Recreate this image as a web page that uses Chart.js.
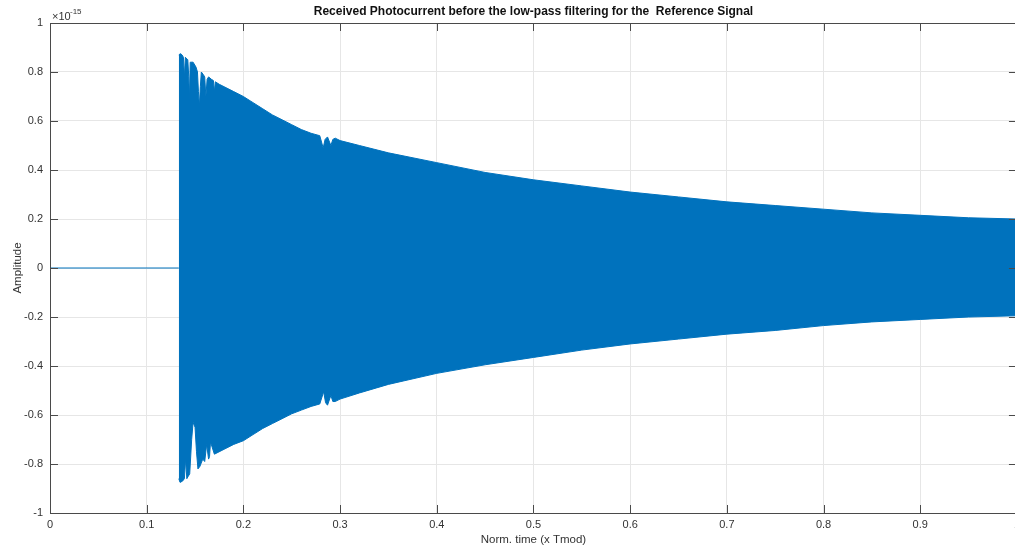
<!DOCTYPE html>
<html>
<head>
<meta charset="utf-8">
<script src="https://cdn.jsdelivr.net/npm/chart.js@4/dist/chart.umd.min.js"></script>
<style>
  html, body { margin: 0; padding: 0; background: #fff; overflow: hidden; }
  #sig { display: block; width: 1025px; height: 548px; }
</style>
</head>
<body>
<canvas id="sig" width="1025" height="548"></canvas>
<script>
// signal envelope (amplitude in units of 1e-15)
var flatX = [0, 0.1332];
var flatY = [0, 0];

var upperX = [0.1332, 0.1350, 0.1365, 0.1380, 0.1390, 0.1400, 0.1425, 0.1435, 0.1442, 0.1450, 0.148, 0.151, 0.1525,
              0.1535, 0.1545, 0.1555, 0.1565, 0.1585, 0.1600, 0.1612, 0.1625, 0.1640, 0.1670, 0.1690, 0.1700, 0.1710,
              0.175, 0.180, 0.190, 0.200, 0.210, 0.220, 0.230, 0.240, 0.250, 0.260, 0.270, 0.279, 0.2825, 0.2845,
              0.287, 0.2905, 0.2925, 0.295, 0.300, 0.320, 0.350, 0.400, 0.450, 0.500, 0.550, 0.600, 0.650,
              0.700, 0.750, 0.800, 0.850, 0.900, 0.950, 1.000];
var upperY = [0.87, 0.875, 0.87, 0.86, 0.78, 0.86, 0.85, 0.78, 0.69, 0.84, 0.84, 0.82, 0.80,
              0.72, 0.66, 0.74, 0.80, 0.79, 0.78, 0.70, 0.77, 0.78, 0.77, 0.765, 0.72, 0.76,
              0.75, 0.74, 0.72, 0.70, 0.675, 0.65, 0.625, 0.605, 0.585, 0.565, 0.55, 0.54, 0.49, 0.525,
              0.535, 0.50, 0.525, 0.53, 0.52, 0.50, 0.47, 0.43, 0.39, 0.36, 0.335, 0.31, 0.29,
              0.27, 0.255, 0.24, 0.225, 0.215, 0.205, 0.20];

var lowerX = [0.1332, 0.1345, 0.1370, 0.1390, 0.1402, 0.1415, 0.1430, 0.1445, 0.1465, 0.1480, 0.1500, 0.1515,
              0.1530, 0.1550, 0.1580, 0.1600, 0.1620, 0.1640, 0.1650, 0.1660, 0.170, 0.180, 0.190, 0.200, 0.210,
              0.220, 0.230, 0.240, 0.250, 0.260, 0.270, 0.279, 0.2830, 0.2850, 0.287, 0.2905, 0.2925, 0.295,
              0.300, 0.320, 0.350, 0.400, 0.450, 0.500, 0.550, 0.600, 0.650, 0.700, 0.750, 0.800, 0.850,
              0.900, 0.950, 1.000];
var lowerY = [-0.86, -0.875, -0.87, -0.86, -0.78, -0.86, -0.85, -0.84, -0.70, -0.63, -0.65, -0.75,
              -0.82, -0.81, -0.78, -0.79, -0.72, -0.78, -0.77, -0.71, -0.76, -0.74, -0.72, -0.705, -0.68,
              -0.655, -0.635, -0.615, -0.595, -0.58, -0.565, -0.555, -0.505, -0.55, -0.56, -0.52, -0.545, -0.545,
              -0.535, -0.51, -0.475, -0.43, -0.395, -0.365, -0.335, -0.31, -0.29, -0.27, -0.255, -0.235, -0.22,
              -0.21, -0.20, -0.195];

var xTicks = [0, 0.1, 0.2, 0.3, 0.4, 0.5, 0.6, 0.7, 0.8, 0.9, 1];
var yTicks = [-1, -0.8, -0.6, -0.4, -0.2, 0, 0.2, 0.4, 0.6, 0.8, 1];

var blue = '#0072BD';
var axisCol = '#4a4a4a';
var font = '"Liberation Sans", Arial, sans-serif';

function pts(xs, ys) {
    return xs.map(function (x, i) { return { x: x, y: ys[i] }; });
}

// matlab style box, inward ticks, title, labels and exponent
var matlabAxes = {
    id: 'matlabAxes',
    afterDraw: function (chart) {
        var c = chart.ctx, a = chart.chartArea;
        var xs = chart.scales.x, ys = chart.scales.y;
        c.save();
        c.strokeStyle = axisCol;
        c.lineWidth = 1;
        c.beginPath();
        c.moveTo(a.left + 0.5, a.top + 0.5); c.lineTo(a.right, a.top + 0.5);
        c.moveTo(a.left + 0.5, a.bottom + 0.5); c.lineTo(a.right, a.bottom + 0.5);
        c.moveTo(a.left + 0.5, a.top); c.lineTo(a.left + 0.5, a.bottom + 0.5);
        c.moveTo(a.right - 0.5, a.top); c.lineTo(a.right - 0.5, a.bottom + 0.5);
        xTicks.forEach(function (v) {
            var px = Math.round(xs.getPixelForValue(v)) + 0.5;
            c.moveTo(px, a.bottom); c.lineTo(px, a.bottom - 8);
            c.moveTo(px, a.top); c.lineTo(px, a.top + 8);
        });
        yTicks.forEach(function (v) {
            var py = Math.round(ys.getPixelForValue(v)) + 0.5;
            c.moveTo(a.left, py); c.lineTo(a.left + 8, py);
            c.moveTo(a.right, py); c.lineTo(a.right - 8, py);
        });
        c.stroke();

        c.fillStyle = '#111';
        c.font = 'bold 12px ' + font;
        c.textAlign = 'center';
        c.textBaseline = 'middle';
        c.fillText('Received Photocurrent before the low-pass filtering for the  Reference Signal', (a.left + a.right) / 2, 12);

        c.fillStyle = '#333';
        c.font = '11.5px ' + font;
        c.fillText('Norm. time (x Tmod)', (a.left + a.right) / 2, 540);

        c.save();
        c.translate(18, (a.top + a.bottom) / 2);
        c.rotate(-Math.PI / 2);
        c.fillText('Amplitude', 0, 0);
        c.restore();

        c.textAlign = 'left';
        c.font = '11px ' + font;
        c.fillText('\u00d710', 52, 17);
        c.font = '8px ' + font;
        c.fillText('-15', 70, 12);
        c.restore();
    }
};

new Chart(document.getElementById('sig'), {
    type: 'line',
    data: {
        datasets: [
            { data: pts(flatX, flatY), borderColor: blue, borderWidth: 1, pointRadius: 0, fill: false },
            { data: pts(upperX, upperY), borderColor: blue, backgroundColor: blue, borderWidth: 1, pointRadius: 0, fill: 'origin' },
            { data: pts(lowerX, lowerY), borderColor: blue, backgroundColor: blue, borderWidth: 1, pointRadius: 0, fill: 'origin' }
        ]
    },
    options: {
        responsive: false,
        animation: false,
        layout: { padding: { top: 23, right: 5, left: 0, bottom: 0 } },
        plugins: { legend: { display: false }, tooltip: { enabled: false } },
        scales: {
            x: {
                type: 'linear', min: 0, max: 1,
                afterBuildTicks: function (s) { s.ticks = xTicks.map(function (v) { return { value: v }; }); },
                afterFit: function (s) { s.height = 35; },
                grid: { color: '#e6e6e6', drawTicks: false },
                border: { display: false },
                ticks: {
                    padding: 5, color: '#333', font: { family: font, size: 11 }, maxRotation: 0,
                    callback: function (v) { return String(Math.round(v * 10) / 10); }
                }
            },
            y: {
                type: 'linear', min: -1, max: 1,
                afterBuildTicks: function (s) { s.ticks = yTicks.map(function (v) { return { value: v }; }); },
                afterFit: function (s) { s.width = 50; },
                grid: { color: '#e6e6e6', drawTicks: false },
                border: { display: false },
                ticks: {
                    padding: 7, color: '#333', font: { family: font, size: 11 },
                    callback: function (v) { return String(Math.round(v * 10) / 10); }
                }
            }
        }
    },
    plugins: [matlabAxes]
});
</script>
</body>
</html>
